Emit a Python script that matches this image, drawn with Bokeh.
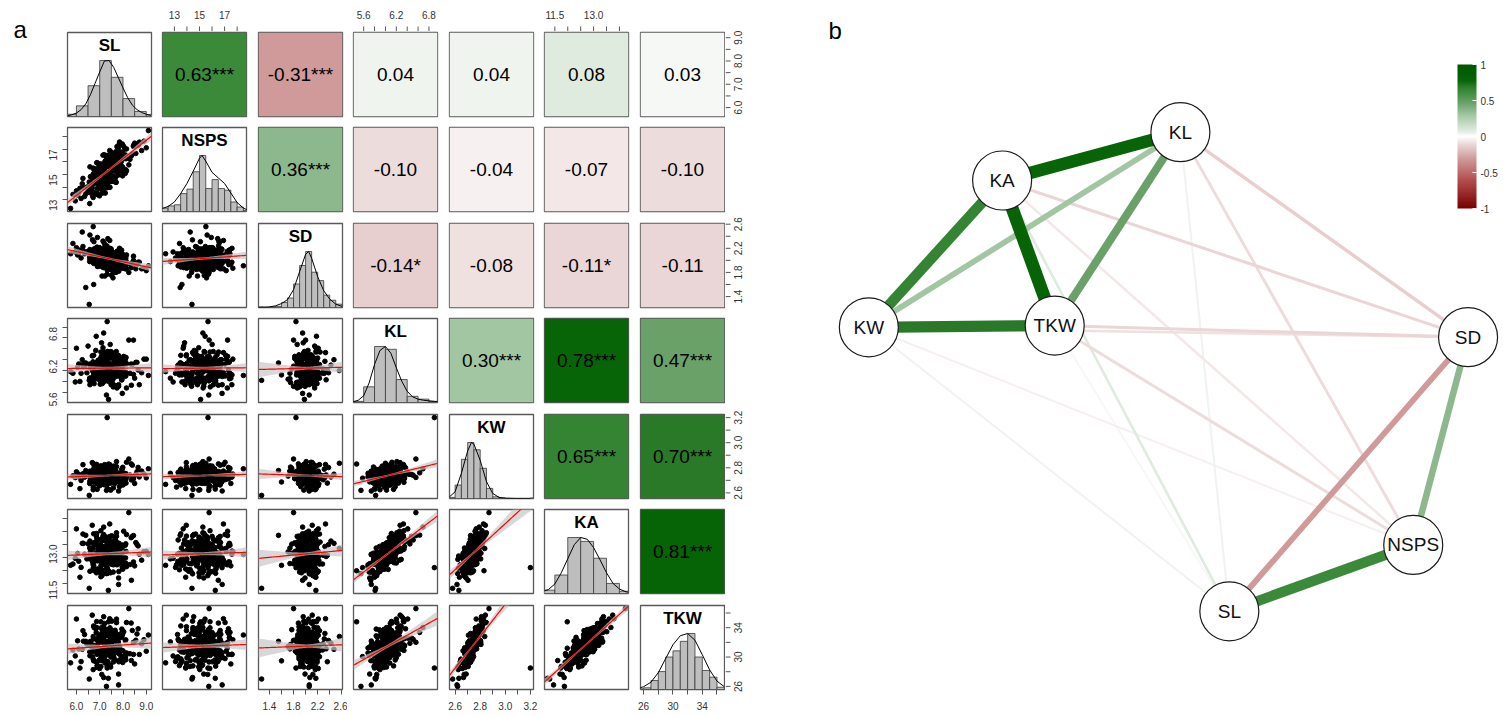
import math
import numpy as np
from bokeh.plotting import figure
from bokeh.layouts import row, column
from bokeh.models import (Range1d, FixedTicker, PrintfTickFormatter, Label, Spacer,
                          ColorBar, LinearColorMapper, ColumnDataSource)
from bokeh.core.properties import value
from bokeh.embed import file_html
from bokeh.resources import INLINE

FONT = "Liberation Sans"

traits = ["SL", "NSPS", "SD", "KL", "KW", "KA", "TKW"]

# ---- per-plant observations -------------------------------------------------
sl = [6.55, 7.29, 8.36, 7.33, 8.15, 7.05, 7.97, 7.11, 7.70, 6.86, 7.74, 6.71, 7.49, 6.69, 7.38,
      7.17, 7.81, 6.90, 7.53, 6.93, 7.60, 6.58, 7.49, 5.95, 7.22, 8.70, 7.36, 7.94, 7.10, 7.95,
      7.37, 6.20, 7.46, 8.45, 7.17, 8.12, 7.24, 7.81, 6.96, 7.85, 7.01, 7.57, 6.75, 7.47, 6.72,
      7.99, 7.00, 7.66, 7.05, 7.71, 6.74, 7.44, 6.57, 7.52, 6.45, 7.26, 9.09, 7.35, 7.97, 7.09,
      6.72, 7.37, 5.75, 7.43, 8.30, 7.19, 8.11, 7.23, 7.79, 6.96, 7.86, 7.02, 7.58, 6.76, 7.61,
      7.06, 7.97, 7.15, 7.65, 6.90, 7.69, 6.77, 7.48, 6.60, 7.50, 6.30, 7.29, 8.55, 7.32, 8.15,
      7.47, 6.71, 7.35, 6.10, 7.44, 8.90, 7.19, 8.12, 7.10, 7.78, 7.13, 7.83, 6.87, 7.56, 6.87,
      7.95, 7.24, 7.82, 7.00, 7.82, 7.03, 7.54, 6.75, 7.61, 6.58, 7.36, 6.40, 7.44, 8.40, 7.17,
      6.89, 7.47, 6.57, 7.50, 6.25, 7.26, 8.60, 7.34, 7.98, 7.07, 7.80, 7.14, 7.67, 7.05, 7.72,
      7.20, 8.13, 7.08, 7.80, 7.14, 7.68, 6.85, 7.71, 6.74, 7.45, 7.32, 7.38, 6.00, 7.43, 8.25,
      6.15, 7.81, 7.29, 7.02, 8.50, 7.58, 7.32, 6.76, 8.12, 7.47, 7.22, 6.58, 7.94, 7.51, 7.13,
      7.09, 6.72, 7.82, 7.37, 6.99, 5.85, 7.69, 7.43, 6.89, 8.80, 7.70, 7.19, 6.87, 7.99, 7.60,
      7.59, 7.33, 6.88, 8.09, 7.61, 7.12, 6.60, 7.92, 7.40, 7.10, 6.35, 7.70, 7.28, 6.90, 8.35,
      6.90, 8.00, 7.48, 7.23, 6.70, 7.84, 7.49, 7.00, 6.05, 7.79, 7.30, 6.99, 8.65, 7.67, 7.21,
      7.40, 6.97, 9.00, 7.61, 7.29, 6.78, 8.10, 7.57, 7.14, 6.62, 7.87, 7.42, 7.05, 6.28, 7.72,
      7.85, 7.48, 7.04, 6.50, 7.77, 7.31, 6.93, 8.45, 7.66, 7.25, 6.83, 8.03, 7.52, 7.17, 6.68]

nsps = [14.40, 15.74, 16.50, 16.29, 15.29, 14.98, 16.80, 14.26, 14.37, 14.96, 17.22, 13.60, 16.11, 14.44, 15.09,
        14.45, 16.81, 13.40, 15.76, 15.16, 14.84, 14.14, 16.75, 12.90, 14.18, 17.58, 16.00, 16.07, 15.27, 15.24,
        16.26, 13.09, 15.25, 17.32, 13.75, 16.46, 16.05, 15.73, 15.23, 17.59, 13.89, 15.56, 15.07, 15.03, 15.51,
        16.31, 15.82, 14.66, 14.77, 16.25, 13.60, 15.52, 12.68, 16.06, 14.00, 14.86, 18.50, 14.44, 17.43, 14.79,
        15.02, 14.50, 12.30, 15.64, 16.21, 16.58, 16.46, 14.69, 14.95, 15.82, 16.32, 14.09, 15.56, 14.48, 16.20,
        14.00, 16.41, 15.72, 15.44, 13.50, 15.86, 14.97, 16.79, 13.75, 15.48, 13.94, 14.47, 16.68, 15.71, 17.04,
        14.94, 14.63, 16.45, 13.56, 13.98, 17.66, 14.93, 15.38, 15.66, 16.02, 14.35, 17.39, 14.96, 14.69, 15.36,
        16.75, 13.52, 15.63, 15.04, 16.61, 13.99, 15.76, 14.29, 14.45, 15.61, 15.67, 13.46, 15.84, 16.65, 14.54,
        14.48, 16.40, 13.56, 15.77, 14.26, 14.76, 17.34, 16.10, 14.89, 15.18, 16.61, 13.96, 15.64, 15.84, 15.27,
        15.41, 16.26, 13.81, 17.09, 14.94, 15.25, 15.45, 15.37, 13.51, 16.01, 15.68, 14.99, 13.70, 16.91, 15.77,
        13.90, 15.34, 16.32, 14.38, 17.50, 15.86, 13.95, 15.36, 16.55, 14.74, 15.47, 13.85, 17.39, 15.38, 13.96,
        15.66, 13.17, 16.02, 15.97, 14.65, 13.41, 16.81, 14.67, 15.06, 16.91, 14.39, 15.32, 15.94, 15.58, 16.01,
        15.76, 14.24, 14.77, 17.04, 15.42, 13.52, 14.83, 15.73, 16.55, 14.84, 13.25, 16.22, 14.57, 15.94, 16.51,
        13.90, 16.65, 15.33, 16.05, 13.27, 16.12, 14.99, 15.62, 13.35, 15.34, 15.84, 13.30, 17.31, 16.54, 15.02,
        14.96, 15.16, 17.13, 16.64, 14.34, 14.68, 15.09, 15.81, 16.54, 14.05, 16.70, 14.41, 14.84, 14.69, 15.44,
        16.22, 14.70, 15.72, 13.74, 15.83, 16.52, 14.18, 17.24, 14.78, 15.61, 14.58, 17.24, 14.45, 15.27, 13.95]

sd = [1.27, 2.06, 1.95, 2.12, 1.86, 2.16, 1.95, 2.04, 1.80, 2.19, 2.15, 1.98, 1.85, 2.34, 1.98,
      2.07, 2.06, 1.94, 2.13, 2.08, 1.91, 2.18, 2.19, 2.14, 1.74, 1.97, 2.12, 2.01, 1.98, 1.94,
      2.17, 2.04, 1.93, 2.07, 1.88, 1.92, 2.21, 2.07, 2.06, 2.20, 1.97, 1.71, 2.31, 1.92, 2.56,
      1.94, 2.21, 1.94, 2.06, 2.09, 1.60, 2.07, 1.98, 2.05, 2.14, 2.14, 1.91, 1.87, 2.11, 2.07,
      2.16, 1.93, 2.11, 1.96, 1.94, 2.29, 1.89, 2.10, 1.86, 2.21, 2.01, 2.10, 1.80, 2.14, 2.12,
      2.00, 2.03, 2.10, 2.07, 1.90, 2.07, 2.00, 2.18, 2.13, 1.99, 2.16, 2.00, 1.86, 1.77, 2.09,
      1.97, 2.09, 2.36, 2.12, 1.87, 1.87, 2.12, 1.87, 2.06, 2.03, 1.90, 2.17, 2.15, 1.97, 2.13,
      2.03, 1.92, 1.82, 2.15, 2.07, 2.12, 2.01, 1.97, 1.91, 2.42, 2.00, 1.55, 2.20, 1.96, 1.96,
      2.10, 2.09, 2.06, 1.92, 2.47, 2.03, 1.93, 2.17, 1.87, 2.03, 2.05, 1.89, 2.09, 2.18, 2.01,
      2.02, 1.99, 1.96, 2.09, 2.17, 1.82, 2.18, 2.01, 1.95, 1.86, 1.84, 2.04, 2.21, 2.33, 1.80,
      2.17, 1.99, 2.12, 2.13, 1.94, 1.90, 1.93, 2.19, 2.04, 1.85, 2.23, 2.02, 2.17, 1.75, 2.02,
      2.12, 2.02, 2.07, 2.02, 2.06, 2.28, 2.07, 2.10, 2.02, 1.86, 1.85, 2.13, 2.21, 1.91, 1.90,
      2.06, 1.91, 2.22, 1.99, 2.05, 1.89, 2.09, 2.04, 2.18, 1.74, 2.11, 2.07, 1.93, 2.38, 1.88,
      2.05, 1.91, 2.06, 2.18, 2.01, 2.05, 1.86, 2.18, 2.09, 2.06, 2.06, 1.91, 1.97, 2.09, 2.11,
      1.94, 2.19, 1.83, 2.12, 2.04, 2.07, 1.86, 1.97, 2.32, 2.01, 2.12, 1.92, 2.02, 2.23, 2.05,
      1.92, 1.98, 2.18, 2.15, 1.97, 2.24, 1.90, 2.00, 1.89, 2.16, 2.04, 2.05, 1.97, 1.95, 2.11]

kl = [5.82, 5.55, 5.73, 5.81, 5.68, 5.79, 5.58, 5.76, 5.71, 5.85, 5.68, 5.79, 5.74, 5.83, 5.47,
      5.83, 5.74, 5.92, 5.81, 5.88, 5.74, 5.86, 5.92, 5.79, 5.85, 5.74, 5.92, 5.83, 5.97, 5.83,
      5.81, 5.95, 5.86, 5.93, 5.79, 5.97, 5.87, 6.02, 5.84, 5.92, 6.00, 5.84, 5.95, 5.89, 6.00,
      5.98, 5.88, 6.04, 5.86, 5.97, 5.92, 6.03, 5.86, 6.00, 5.96, 6.08, 5.91, 6.00, 5.95, 6.05,
      5.90, 6.02, 5.98, 6.08, 5.95, 6.03, 5.92, 6.07, 6.01, 5.97, 6.12, 5.95, 6.08, 6.02, 6.13,
      6.05, 5.94, 6.10, 6.02, 6.14, 6.00, 6.08, 5.97, 6.11, 6.03, 6.07, 5.97, 6.15, 6.03, 6.12,
      6.02, 6.16, 6.01, 6.12, 6.08, 6.21, 6.04, 6.15, 6.01, 6.18, 6.09, 6.16, 6.07, 6.23, 6.11,
      6.20, 6.08, 6.26, 6.07, 6.19, 6.13, 6.25, 6.06, 6.18, 6.10, 6.24, 6.14, 6.23, 6.11, 6.30,
      6.15, 6.29, 6.12, 6.25, 6.20, 6.29, 6.15, 6.35, 6.18, 6.26, 6.13, 6.29, 6.22, 6.34, 6.21,
      6.34, 6.24, 6.51, 6.28, 6.42, 6.22, 6.63, 6.35, 6.28, 6.48, 6.90, 6.26, 6.41, 6.33, 6.56,
      5.80, 5.71, 5.87, 5.75, 5.86, 5.70, 5.82, 5.76, 5.90, 5.78, 5.86, 5.74, 5.85, 5.78, 5.90,
      5.84, 5.98, 5.90, 5.98, 5.84, 5.95, 5.89, 6.04, 5.87, 5.96, 5.92, 6.04, 5.88, 6.00, 5.94,
      6.02, 5.92, 6.07, 5.90, 6.00, 5.96, 6.05, 5.90, 6.03, 5.95, 6.08, 5.99, 6.06, 5.96, 6.12,
      5.97, 6.09, 6.03, 6.15, 5.99, 6.09, 5.97, 6.13, 6.06, 6.15, 6.04, 6.10, 6.01, 6.15, 6.09,
      6.14, 6.02, 6.21, 6.08, 6.19, 6.07, 6.22, 6.11, 6.17, 6.05, 6.20, 6.11, 6.23, 6.11, 6.20,
      6.18, 6.35, 6.18, 6.45, 6.22, 6.34, 6.19, 6.56, 6.27, 6.22, 6.37, 6.26, 6.33, 6.69, 6.27]

kw = [2.580, 2.620, 2.703, 2.678, 2.727, 2.680, 2.717, 2.684, 2.746, 2.723, 2.756, 2.730, 2.770, 2.743, 2.830,
      2.667, 2.615, 2.689, 2.724, 2.688, 2.721, 2.693, 2.745, 2.722, 2.774, 2.727, 2.771, 2.761, 2.804, 2.788,
      2.630, 2.699, 2.677, 2.712, 2.676, 2.734, 2.721, 2.708, 2.765, 2.727, 2.760, 2.734, 2.789, 2.772, 2.836,
      2.668, 2.657, 2.720, 2.695, 2.729, 2.687, 2.734, 2.756, 2.718, 2.750, 2.738, 2.792, 2.752, 2.795, 2.784,
      2.625, 2.700, 2.668, 2.713, 2.742, 2.705, 2.747, 2.704, 2.746, 2.773, 2.736, 2.775, 2.765, 2.818, 2.792,
      2.683, 2.667, 2.705, 2.675, 2.729, 2.752, 2.709, 2.746, 2.718, 2.770, 2.753, 2.792, 2.747, 2.795, 2.844,
      2.622, 2.715, 2.678, 2.728, 2.707, 2.750, 2.702, 2.754, 2.776, 2.733, 2.771, 2.745, 2.805, 2.778, 2.827,
      2.684, 2.663, 2.716, 2.706, 2.750, 2.708, 2.745, 2.727, 2.774, 2.726, 2.784, 2.778, 2.763, 2.821, 2.810,
      2.628, 2.712, 2.675, 2.725, 2.749, 2.722, 2.769, 2.721, 2.758, 2.780, 2.748, 2.807, 2.777, 2.815, 2.849,
      2.684, 2.678, 2.741, 2.706, 2.750, 2.713, 2.760, 2.742, 2.789, 2.746, 3.200, 2.808, 2.768, 2.826, 2.870,
      2.634, 2.688, 2.661, 2.706, 2.675, 2.738, 2.710, 2.747, 2.709, 2.746, 2.714, 2.773, 2.748, 2.806, 2.790,
      2.672, 2.646, 2.699, 2.724, 2.698, 2.736, 2.693, 2.745, 2.732, 2.774, 2.727, 2.771, 2.751, 2.804, 2.813,
      2.640, 2.704, 2.672, 2.732, 2.706, 2.734, 2.701, 2.753, 2.730, 2.772, 2.725, 2.774, 2.754, 2.802, 2.831,
      2.679, 2.663, 2.726, 2.696, 2.730, 2.698, 2.755, 2.722, 2.754, 2.721, 2.779, 2.763, 2.803, 2.771, 2.825,
      2.693, 2.677, 2.720, 2.685, 2.729, 2.757, 2.714, 2.761, 2.723, 2.770, 2.758, 2.797, 2.762, 2.825, 2.809,
      2.650, 2.714, 2.697, 2.747, 2.706, 2.744, 2.766, 2.723, 2.770, 2.752, 2.800, 2.759, 2.809, 2.792, 2.841]

ka = [11.30, 11.87, 11.61, 11.88, 12.14, 11.75, 12.10, 12.00, 12.25, 11.90, 12.21, 12.47, 12.24, 12.53, 11.98,
      11.86, 11.45, 12.02, 12.24, 12.00, 12.26, 11.96, 12.31, 12.46, 12.26, 12.62, 12.43, 12.65, 12.44, 12.86,
      11.22, 12.11, 11.90, 12.32, 12.23, 12.19, 12.54, 12.24, 12.49, 12.74, 12.35, 12.71, 12.63, 12.92, 12.84,
      12.04, 11.96, 12.40, 12.17, 12.38, 12.19, 12.59, 12.44, 12.64, 12.44, 12.90, 12.61, 12.78, 12.97, 12.84,
      12.08, 12.40, 12.19, 12.51, 12.22, 12.58, 12.48, 12.78, 12.48, 12.73, 12.64, 12.95, 12.67, 13.06, 13.13,
      12.03, 12.40, 12.34, 12.71, 12.37, 12.63, 12.43, 12.83, 12.73, 12.68, 13.04, 12.75, 13.07, 13.01, 13.38,
      12.42, 12.29, 12.58, 12.35, 12.76, 12.72, 12.57, 13.02, 12.77, 12.97, 12.73, 13.04, 13.26, 13.05, 13.42,
      12.28, 12.65, 12.39, 12.76, 12.62, 12.98, 12.78, 12.98, 12.73, 13.13, 12.94, 13.35, 13.02, 13.31, 13.38,
      12.55, 12.42, 12.86, 12.73, 13.04, 12.75, 13.00, 13.20, 12.95, 13.20, 12.91, 13.32, 13.24, 13.53, 13.45,
      12.81, 12.73, 13.17, 12.84, 13.15, 13.06, 13.36, 13.11, 13.41, 13.31, 12.10, 13.28, 13.60, 13.79, 14.23,
      11.73, 11.70, 12.09, 11.91, 12.17, 11.93, 12.38, 11.98, 12.28, 12.38, 12.24, 12.60, 12.32, 12.66, 12.63,
      11.79, 12.21, 11.95, 12.27, 12.48, 12.24, 12.49, 12.39, 12.69, 12.39, 12.65, 12.81, 12.53, 12.92, 12.94,
      12.21, 12.03, 12.37, 12.24, 12.65, 12.41, 12.66, 12.36, 12.66, 12.86, 12.62, 12.88, 12.70, 12.99, 13.26,
      12.05, 12.52, 12.26, 12.58, 12.34, 12.75, 12.60, 12.90, 12.65, 12.90, 12.71, 13.17, 12.94, 13.18, 13.15,
      12.42, 12.39, 12.73, 12.45, 12.76, 12.62, 12.97, 12.62, 12.92, 13.07, 12.88, 13.14, 12.96, 13.40, 13.32,
      12.49, 12.91, 12.70, 13.02, 12.78, 13.09, 12.84, 13.34, 13.09, 13.29, 13.10, 13.51, 13.33, 13.67, 13.74]

tkw = [27.00, 26.00, 29.52, 28.76, 30.56, 28.72, 30.06, 29.50, 31.34, 29.28, 31.24, 30.94, 32.18, 31.12, 34.80,
       27.21, 26.20, 28.83, 30.47, 28.77, 30.43, 30.17, 31.91, 30.15, 31.59, 30.35, 31.85, 32.89, 32.03, 33.81,
       27.10, 29.38, 28.92, 30.36, 31.26, 29.62, 30.76, 30.60, 31.94, 30.38, 32.24, 31.44, 32.48, 33.72, 32.80,
       29.26, 28.44, 30.98, 29.72, 30.72, 29.48, 31.42, 32.06, 30.80, 31.74, 31.60, 33.00, 31.64, 33.38, 33.26,
       28.29, 30.57, 29.21, 30.75, 30.45, 31.81, 30.05, 31.99, 31.33, 32.97, 31.43, 32.73, 32.27, 34.01, 32.99,
       29.91, 29.39, 30.43, 29.57, 31.57, 31.53, 30.77, 31.71, 30.65, 32.89, 32.15, 33.75, 32.29, 33.73, 34.71,
       28.64, 30.92, 29.36, 31.10, 30.70, 32.36, 30.80, 32.34, 32.28, 31.32, 33.18, 32.58, 34.02, 33.06, 34.84,
       29.90, 29.18, 31.42, 30.86, 32.56, 30.72, 32.16, 31.60, 33.24, 31.88, 32.94, 32.14, 33.98, 33.62, 35.50,
       28.79, 31.07, 30.71, 32.15, 31.05, 32.11, 33.15, 31.59, 33.03, 32.77, 32.03, 34.13, 33.37, 34.81, 34.69,
       30.90, 30.38, 32.42, 31.66, 32.56, 31.42, 33.36, 32.50, 34.24, 32.58, 28.50, 33.34, 35.18, 35.22, 36.60,
       28.50, 27.68, 29.42, 30.46, 29.06, 30.22, 29.16, 31.20, 30.44, 31.38, 30.04, 31.64, 32.68, 31.72, 33.60,
       27.63, 29.71, 29.35, 30.99, 29.59, 30.95, 30.59, 32.23, 30.37, 31.81, 31.37, 32.77, 31.41, 33.35, 33.33,
       29.33, 28.71, 30.85, 29.79, 30.79, 29.75, 31.89, 30.93, 32.07, 31.11, 33.07, 32.17, 33.11, 32.25, 34.63,
       28.57, 30.85, 29.99, 31.23, 30.03, 31.39, 32.33, 31.07, 32.21, 30.95, 33.01, 32.41, 33.85, 33.09, 34.57,
       30.27, 29.55, 30.79, 29.93, 31.93, 31.29, 32.23, 31.17, 33.21, 32.15, 33.11, 32.11, 33.95, 33.59, 35.17,
       29.60, 31.49, 30.33, 31.87, 32.97, 31.63, 32.57, 32.01, 33.65, 32.19, 33.85, 33.45, 34.89, 34.03, 35.71]

# ---- histogram breaks (first break, bin width) and counts ---------------------
hist_sl = [4, 19, 55, 100, 70, 32, 9, 3]
hist_nsps = [6, 10, 12, 32, 40, 71, 100, 41, 57, 41, 38, 17, 8, 2]
hist_sd = [1, 0, 1, 2, 9, 17, 42, 75, 100, 63, 48, 22, 13, 6]
hist_kl = [2, 28, 100, 95, 41, 11, 6, 2]
hist_kw = [2, 24, 70, 100, 87, 54, 18, 3, 1, 0, 0, 0, 0, 1]
hist_ka = [6, 33, 100, 93, 63, 18, 4]
hist_tkw = [1, 3, 16, 32, 58, 69, 86, 100, 58, 34, 22, 4]
hist_start = [5.5, 12.0, 1.2, 5.4, 2.55, 11.0, 25.0]
hist_width = [0.5, 0.5, 0.1, 0.2, 0.05, 0.5, 1.0]

# ---- kernel density curves (relative height) ---------------------------------
dens_sl_x = [5.6, 5.8, 6.0, 6.2, 6.4, 6.6, 6.8, 7.0, 7.2, 7.4, 7.6, 7.8, 8.0, 8.2, 8.4, 8.6, 8.8, 9.0, 9.2]
dens_sl_y = [0.01, 0.03, 0.06, 0.12, 0.22, 0.38, 0.58, 0.78, 0.97, 0.98, 0.86, 0.68, 0.50, 0.33, 0.20, 0.12, 0.07, 0.04, 0.02]
dens_nsps_x = [12.0, 12.5, 13.0, 13.5, 14.0, 14.5, 15.0, 15.2, 15.5, 16.0, 16.5, 17.0, 17.5, 18.0, 18.5, 18.8]
dens_nsps_y = [0.05, 0.09, 0.17, 0.32, 0.50, 0.72, 0.95, 1.00, 0.90, 0.70, 0.60, 0.50, 0.33, 0.16, 0.06, 0.03]
dens_sd_x = [1.2, 1.3, 1.4, 1.5, 1.6, 1.7, 1.8, 1.9, 2.0, 2.05, 2.1, 2.2, 2.3, 2.4, 2.5, 2.6]
dens_sd_y = [0.0, 0.005, 0.01, 0.03, 0.07, 0.14, 0.32, 0.64, 0.95, 1.0, 0.88, 0.55, 0.30, 0.15, 0.06, 0.02]
dens_kl_x = [5.4, 5.5, 5.6, 5.7, 5.8, 5.9, 6.0, 6.1, 6.2, 6.3, 6.4, 6.5, 6.6, 6.7, 6.8, 6.9, 7.0]
dens_kl_y = [0.01, 0.04, 0.12, 0.35, 0.68, 0.93, 1.0, 0.88, 0.62, 0.38, 0.20, 0.10, 0.06, 0.04, 0.03, 0.02, 0.01]
dens_kw_x = [2.55, 2.6, 2.65, 2.7, 2.73, 2.75, 2.8, 2.85, 2.9, 2.95, 3.0, 3.1, 3.2]
dens_kw_y = [0.02, 0.12, 0.45, 0.85, 1.0, 0.97, 0.68, 0.30, 0.09, 0.02, 0.005, 0.0, 0.0]
dens_ka_x = [11.0, 11.25, 11.5, 11.75, 12.0, 12.25, 12.5, 12.75, 13.0, 13.25, 13.5, 13.75, 14.0, 14.25, 14.5]
dens_ka_y = [0.03, 0.07, 0.17, 0.37, 0.62, 0.87, 1.0, 0.97, 0.82, 0.60, 0.37, 0.18, 0.08, 0.03, 0.01]
dens_tkw_x = [25.5, 26.0, 27.0, 28.0, 29.0, 30.0, 31.0, 32.0, 33.0, 34.0, 35.0, 36.0, 37.0]
dens_tkw_y = [0.03, 0.05, 0.13, 0.30, 0.55, 0.80, 0.96, 1.0, 0.88, 0.62, 0.35, 0.15, 0.05]

# ---- Pearson correlations (upper triangle) -----------------------------------
pair_a = ["SL", "SL", "SL", "SL", "SL", "SL", "NSPS", "NSPS", "NSPS", "NSPS", "NSPS",
          "SD", "SD", "SD", "SD", "KL", "KL", "KL", "KW", "KW", "KA"]
pair_b = ["NSPS", "SD", "KL", "KW", "KA", "TKW", "SD", "KL", "KW", "KA", "TKW",
          "KL", "KW", "KA", "TKW", "KW", "KA", "TKW", "KA", "TKW", "TKW"]
pair_r = [0.63, -0.31, 0.04, 0.04, 0.08, 0.03, 0.36, -0.10, -0.04, -0.07, -0.10,
          -0.14, -0.08, -0.11, -0.11, 0.30, 0.78, 0.47, 0.65, 0.70, 0.81]
pair_sig = ["***", "***", "", "", "", "", "***", "", "", "", "",
            "*", "", "*", "", "***", "***", "***", "***", "***", "***"]

# ---- axis ticks ---------------------------------------------------------------
tick_major = {"SL": [6.0, 7.0, 8.0, 9.0], "NSPS": [13, 15, 17], "SD": [1.4, 1.8, 2.2, 2.6],
              "KL": [5.6, 6.2, 6.8], "KW": [2.6, 2.8, 3.0, 3.2], "KA": [11.5, 13.0], "TKW": [26, 30, 34]}
tick_minor = {"SL": [6.5, 7.5, 8.5], "NSPS": [14, 16, 18], "SD": [1.6, 2.0, 2.4],
              "KL": [5.8, 6.0, 6.4, 6.6], "KW": [2.7, 2.9, 3.1], "KA": [12.0, 12.5, 13.5, 14.0],
              "TKW": [28, 32, 36]}
tick_fmt = {"SL": "%.1f", "NSPS": "%d", "SD": "%.1f", "KL": "%.1f", "KW": "%.1f", "KA": "%.1f", "TKW": "%d"}

# ---- network layout -----------------------------------------------------------
node_names = ["KW", "KA", "KL", "TKW", "SD", "NSPS", "SL"]
node_x = [-1.007, -0.533, 0.101, -0.346, 1.124, 0.929, 0.275]
node_y = [0.111, 0.633, 0.805, 0.117, 0.076, -0.663, -0.899]

# ---- shared diverging colour scale -------------------------------------------
stop_v = [-1.0, -0.6, -0.31, -0.12, 0.0, 0.08, 0.30, 0.47, 0.63, 0.70, 0.78, 1.0]
stop_c = ["#7a0000", "#b45050", "#d09a9a", "#e9d4d4", "#ffffff", "#e1ebe1",
          "#a3c6a3", "#6aa26a", "#3a8a3a", "#2a7a2a", "#076507", "#005800"]


def _rgb(h):
    return [int(h[k:k + 2], 16) for k in (1, 3, 5)]


_rgbs = np.array([_rgb(c) for c in stop_c], float)
palette = []
for g in np.linspace(-1, 1, 256):
    cc = [int(round(np.interp(g, stop_v, _rgbs[:, k]))) for k in range(3)]
    palette.append("#%02x%02x%02x" % tuple(cc))
mapper = LinearColorMapper(palette=palette, low=-1, high=1)

obs = dict(zip(traits, [sl, nsps, sd, kl, kw, ka, tkw]))
hists = dict(zip(traits, [hist_sl, hist_nsps, hist_sd, hist_kl, hist_kw, hist_ka, hist_tkw]))
dens = dict(zip(traits, [(dens_sl_x, dens_sl_y), (dens_nsps_x, dens_nsps_y), (dens_sd_x, dens_sd_y),
                         (dens_kl_x, dens_kl_y), (dens_kw_x, dens_kw_y), (dens_ka_x, dens_ka_y),
                         (dens_tkw_x, dens_tkw_y)]))

lims = {}
for t in traits:
    v = np.asarray(obs[t], float)
    pad = 0.04 * (v.max() - v.min())
    lims[t] = (v.min() - pad, v.max() + pad)

corr = {}
for a, b, r, s in zip(pair_a, pair_b, pair_r, pair_sig):
    corr[(a, b)] = (r, s)

# panel geometry (pixels)
FR = 84
LEFT_W = 34     # strip holding the panel tag
LB = [33, 6, 6, 6, 6, 6, 6]
RB = [5, 6, 5, 6, 5, 6, 1]
TB = [1, 6, 6, 6, 6, 6, 6]
BB = [5, 6, 5, 6, 5, 6, 27]
TOP_H = 31      # strip holding the top tick labels
RIGHT_W = 75    # strip holding the right tick labels
PANEL_H = 716
TICK_COL = "#555555"
LAB_COL = "#333333"


def style_axis(ax, t, vertical, standoff):
    ticks = tick_major[t]
    minors = tick_minor[t]
    ax.ticker = FixedTicker(ticks=ticks, minor_ticks=minors)
    ax.formatter = PrintfTickFormatter(format=tick_fmt[t])
    allt = list(ticks) + list(minors)
    ax.bounds = (min(allt), max(allt))
    ax.axis_line_color = TICK_COL
    ax.major_tick_line_color = TICK_COL
    ax.minor_tick_line_color = TICK_COL
    ax.major_tick_in = 0
    ax.major_tick_out = 5
    ax.minor_tick_in = 0
    ax.minor_tick_out = 5
    ax.major_label_text_font = FONT
    ax.major_label_text_font_size = "10px"
    ax.major_label_text_color = LAB_COL
    ax.major_label_standoff = standoff
    if vertical:
        ax.major_label_orientation = math.pi / 2


def bare_figure(width, height, xr, yr):
    p = figure(width=width, height=height, x_range=xr, y_range=yr,
               toolbar_location=None, output_backend="svg",
               x_axis_location=None, y_axis_location=None,
               min_border_left=0, min_border_right=0, min_border_top=0, min_border_bottom=0)
    p.grid.grid_line_color = None
    p.outline_line_color = None
    p.background_fill_color = "white"
    p.border_fill_color = "white"
    return p


def make_cell(i, j, xr, yr):
    xloc = "below" if (i == 6 and j % 2 == 0) else None
    yloc = "left" if (j == 0 and i % 2 == 1) else None
    p = figure(width=LB[j] + FR + RB[j], height=TB[i] + FR + BB[i], x_range=xr, y_range=yr,
               toolbar_location=None, output_backend="svg",
               x_axis_location=xloc, y_axis_location=yloc,
               min_border_left=LB[j], min_border_right=RB[j],
               min_border_top=TB[i], min_border_bottom=BB[i])
    p.grid.grid_line_color = None
    p.outline_line_color = "#5a5a5a"
    p.outline_line_width = 1.3
    p.background_fill_color = "white"
    p.border_fill_color = "white"
    if xloc is not None:
        style_axis(p.xaxis[0], traits[j], False, 7)
    if yloc is not None:
        style_axis(p.yaxis[0], traits[i], True, 9)
    return p


def top_axis_strip(j):
    # same x scale as the matrix column, widened over the cell borders
    t = traits[j]
    lo, hi = lims[t]
    ppx = (hi - lo) / FR
    p = bare_figure(LB[j] + FR + RB[j], TOP_H,
                    Range1d(lo - LB[j] * ppx, hi + RB[j] * ppx), Range1d(0, TOP_H))
    allt = list(tick_major[t]) + list(tick_minor[t])
    p.segment(x0=allt, y0=[0] * len(allt), x1=allt, y1=[5] * len(allt),
              line_color=TICK_COL, line_width=1)
    p.text(x=tick_major[t], y=[16.5] * len(tick_major[t]),
           text=[tick_fmt[t] % v for v in tick_major[t]],
           text_align="center", text_baseline="middle", text_font=value(FONT),
           text_font_size="10px", text_color=LAB_COL)
    return p


def right_axis_strip(i, top_px, bottom_px):
    # same y scale as the matrix row, widened over the cell borders
    t = traits[i]
    lo, hi = lims[t]
    ppy = (hi - lo) / FR
    p = bare_figure(RIGHT_W, top_px + FR + bottom_px, Range1d(0, RIGHT_W),
                    Range1d(lo - bottom_px * ppy, hi + top_px * ppy))
    allt = list(tick_major[t]) + list(tick_minor[t])
    p.segment(x0=[0] * len(allt), y0=allt, x1=[5] * len(allt), y1=allt,
              line_color=TICK_COL, line_width=1)
    p.text(x=[8] * len(tick_major[t]), y=tick_major[t],
           text=[tick_fmt[t] % v for v in tick_major[t]], angle=math.pi / 2,
           text_align="center", text_baseline="top", text_font=value(FONT),
           text_font_size="10px", text_color=LAB_COL)
    return p


# ---- strip above the matrix: top tick labels ----------------------------------
top_items = []
for j in range(7):
    w = LB[j] + FR + RB[j]
    if j % 2 == 1:
        top_items.append(top_axis_strip(j))
    else:
        top_items.append(Spacer(width=w, height=TOP_H))

row_layouts = [row(*top_items)]
for i, ti in enumerate(traits):
    row_figs = []
    for j, tj in enumerate(traits):
        if i == j:
            p = make_cell(i, j, Range1d(*lims[tj]), Range1d(0, 1.5))
            c = np.asarray(hists[tj], float)
            edges = hist_start[j] + hist_width[j] * np.arange(len(c) + 1)
            p.quad(left=edges[:-1], right=edges[1:], bottom=0, top=c / c.max(),
                   fill_color="#bebebe", line_color="#3a3a3a", line_width=0.8)
            dx, dy = dens[tj]
            dy = np.asarray(dy, float)
            p.line(dx, dy / dy.max(), line_color="black", line_width=1)
            p.add_layout(Label(x=0.5 * (lims[tj][0] + lims[tj][1]), y=1.27, text=tj,
                               text_align="center", text_baseline="middle", text_font=FONT,
                               text_font_style="bold", text_font_size="17px", text_color="black"))
        elif i < j:
            p = make_cell(i, j, Range1d(0, 1), Range1d(0, 1))
            r, s = corr[(ti, tj)]
            src = ColumnDataSource(dict(r=[r], txt=["%.2f%s" % (r, s)]))
            p.quad(left=0, right=1, bottom=0, top=1, source=src,
                   fill_color={"field": "r", "transform": mapper}, line_color=None)
            p.text(x=0.5, y=0.5, text="txt", source=src, text_align="center",
                   text_baseline="middle", text_font=value(FONT), text_font_size="19px",
                   text_color="black")
        else:
            p = make_cell(i, j, Range1d(*lims[tj]), Range1d(*lims[ti]))
            x = np.asarray(obs[tj], float)
            y = np.asarray(obs[ti], float)
            p.scatter(x, y, size=4.6, color="black")
            b1, b0 = np.polyfit(x, y, 1)
            n = len(x)
            resid = y - (b0 + b1 * x)
            s_err = math.sqrt(float(np.sum(resid ** 2)) / (n - 2))
            sxx = float(np.sum((x - x.mean()) ** 2))
            xs = np.linspace(lims[tj][0], lims[tj][1], 60)
            yh = b0 + b1 * xs
            se = s_err * np.sqrt(1.0 / n + (xs - x.mean()) ** 2 / sxx)
            p.varea(x=xs, y1=yh - 1.97 * se, y2=yh + 1.97 * se, fill_color="#c8c8c8", fill_alpha=0.7)
            p.line(xs, yh, line_color="#ff0000", line_width=1.2)
        row_figs.append(p)
    row_layouts.append(row(*row_figs))

matrix = column(*row_layouts)

# ---- column left of the matrix: panel tag --------------------------------------
tag = bare_figure(LEFT_W, PANEL_H, Range1d(0, LEFT_W), Range1d(0, PANEL_H))
tag.add_layout(Label(x=13, y=PANEL_H - 29, text="a", text_align="left", text_baseline="alphabetic",
                     text_font=FONT, text_font_size="24px", text_color="black"))

# ---- column right of the matrix: right-hand tick labels -----------------------
right_items = []
for i in range(7):
    h = TB[i] + FR + BB[i]
    if i == 0:
        right_items.append(right_axis_strip(0, TOP_H + TB[0], BB[0]))
    elif i % 2 == 0:
        right_items.append(right_axis_strip(i, TB[i], BB[i]))
    else:
        right_items.append(Spacer(width=RIGHT_W, height=h))

panel_a = row(tag, matrix, column(*right_items))

# ---- correlation network ------------------------------------------------------
net = bare_figure(703, PANEL_H, Range1d(-1.25, 1.25), Range1d(-1.2732, 1.2732))

pos = dict(zip(node_names, zip(node_x, node_y)))
order = np.argsort(np.abs(pair_r))
esrc = ColumnDataSource(dict(
    x0=[pos[pair_a[k]][0] for k in order], y0=[pos[pair_a[k]][1] for k in order],
    x1=[pos[pair_b[k]][0] for k in order], y1=[pos[pair_b[k]][1] for k in order],
    r=[pair_r[k] for k in order], w=[1.5 + 14 * abs(pair_r[k]) for k in order]))
net.segment(x0="x0", y0="y0", x1="x1", y1="y1", source=esrc,
            line_color={"field": "r", "transform": mapper}, line_width="w")
net.scatter(node_x, node_y, size=59, fill_color="white", line_color="#1a1a1a", line_width=1.2)
net.text(node_x, node_y, text=node_names, text_align="center", text_baseline="middle",
         text_font=value(FONT), text_font_size="19px", text_color="#111111")

cbar = ColorBar(color_mapper=mapper, location=(657, 508), width=19, height=144,
                padding=0, margin=0, ticker=FixedTicker(ticks=[-1, -0.5, 0, 0.5, 1]),
                formatter=PrintfTickFormatter(format="%g"),
                major_label_text_font=FONT, major_label_text_font_size="10px",
                major_label_text_color=LAB_COL, major_tick_line_color="white",
                major_tick_in=4, major_tick_out=0, label_standoff=4,
                bar_line_color=None, background_fill_alpha=0)
net.add_layout(cbar)
net.add_layout(Label(x=28, y=686, x_units="screen", y_units="screen", text="b",
                     text_font=FONT, text_font_size="24px", text_color="black",
                     text_baseline="alphabetic"))

layout = row(panel_a, net)
open("out.html", "w").write(file_html(layout, INLINE, title="Trait correlations"))
